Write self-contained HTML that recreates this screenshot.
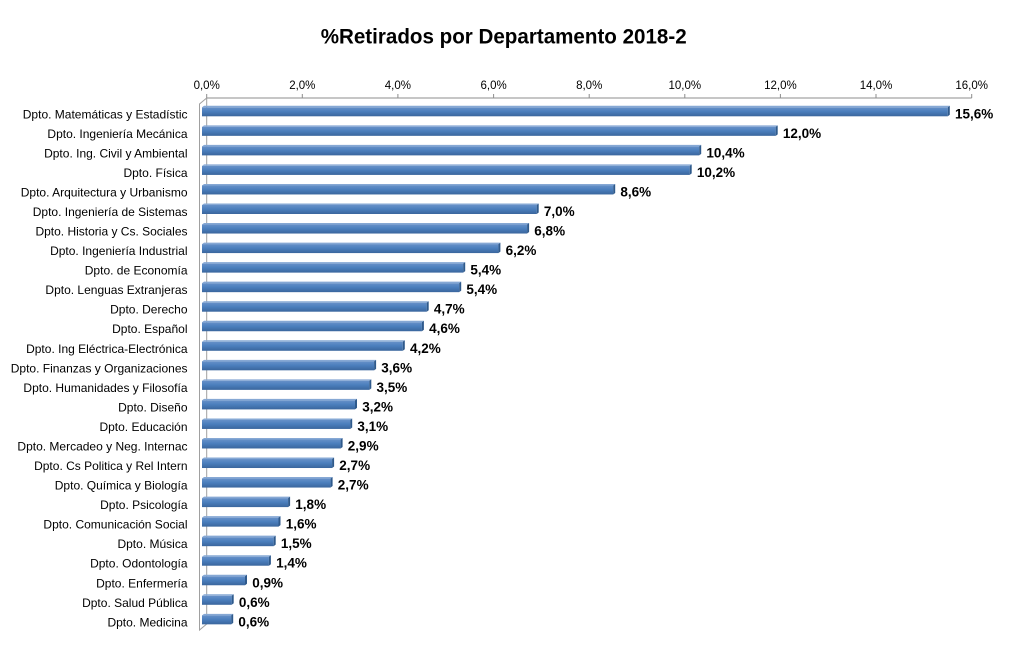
<!DOCTYPE html>
<html><head><meta charset="utf-8"><style>
html,body{margin:0;padding:0;background:#fff;}
svg{display:block;}
.cat{font-family:"Liberation Sans",Arial,sans-serif;font-size:12px;fill:#000;text-anchor:end;}
.tick{font-family:"Liberation Sans",Arial,sans-serif;font-size:11.5px;fill:#000;text-anchor:middle;}
.val{font-family:"Liberation Sans",Arial,sans-serif;font-size:13.5px;font-weight:bold;fill:#000;}
.b{fill:url(#bg);}
.t{fill:#86A8D4;}
.c{fill:#2F5A8C;}
</style></head><body>
<svg width="1010" height="650" viewBox="0 0 1010 650" xmlns="http://www.w3.org/2000/svg">
<defs>
<linearGradient id="bg" x1="0" y1="0" x2="0" y2="1">
<stop offset="0" stop-color="#6690C8"/>
<stop offset="0.45" stop-color="#4B7FBD"/>
<stop offset="1" stop-color="#3A669D"/>
</linearGradient>
</defs>
<rect width="1010" height="650" fill="#fff"/>
<text x="503.7" y="43.3" textLength="366" lengthAdjust="spacingAndGlyphs" style="font-family:'Liberation Sans',Arial,sans-serif;font-size:21px;font-weight:bold;text-anchor:middle" fill="#000">%Retirados por Departamento 2018-2</text>

<g stroke="#8C8C8C" stroke-width="1" fill="none">
<line x1="206.7" y1="98" x2="971.7" y2="98"/>
<line x1="206.7" y1="94" x2="206.7" y2="98"/>
<line x1="302.3" y1="94" x2="302.3" y2="98"/>
<line x1="397.9" y1="94" x2="397.9" y2="98"/>
<line x1="493.6" y1="94" x2="493.6" y2="98"/>
<line x1="589.2" y1="94" x2="589.2" y2="98"/>
<line x1="684.8" y1="94" x2="684.8" y2="98"/>
<line x1="780.4" y1="94" x2="780.4" y2="98"/>
<line x1="876.0" y1="94" x2="876.0" y2="98"/>
<line x1="971.7" y1="94" x2="971.7" y2="98"/>
</g>
<g stroke="#A0A0A0" stroke-width="1" fill="none">
<polyline points="206.7,98 199.5,104 199.5,630 206.7,624 206.7,98"/>
</g>

<text class="tick" x="206.7" y="89">0,0%</text>
<text class="tick" x="302.3" y="89">2,0%</text>
<text class="tick" x="397.9" y="89">4,0%</text>
<text class="tick" x="493.6" y="89">6,0%</text>
<text class="tick" x="589.2" y="89">8,0%</text>
<text class="tick" x="684.8" y="89">10,0%</text>
<text class="tick" x="780.4" y="89">12,0%</text>
<text class="tick" x="876.0" y="89">14,0%</text>
<text class="tick" x="971.7" y="89">16,0%</text>

<text class="cat" x="187.5" y="118.3">Dpto. Matemáticas y Estadístic</text>
<text class="cat" x="187.5" y="137.8">Dpto. Ingeniería Mecánica</text>
<text class="cat" x="187.5" y="157.4">Dpto. Ing. Civil y Ambiental</text>
<text class="cat" x="187.5" y="176.9">Dpto. Física</text>
<text class="cat" x="187.5" y="196.5">Dpto. Arquitectura y Urbanismo</text>
<text class="cat" x="187.5" y="216.0">Dpto. Ingeniería de Sistemas</text>
<text class="cat" x="187.5" y="235.5">Dpto. Historia y Cs. Sociales</text>
<text class="cat" x="187.5" y="255.1">Dpto. Ingeniería Industrial</text>
<text class="cat" x="187.5" y="274.6">Dpto. de Economía</text>
<text class="cat" x="187.5" y="294.2">Dpto. Lenguas Extranjeras</text>
<text class="cat" x="187.5" y="313.7">Dpto. Derecho</text>
<text class="cat" x="187.5" y="333.2">Dpto. Español</text>
<text class="cat" x="187.5" y="352.8">Dpto. Ing Eléctrica-Electrónica</text>
<text class="cat" x="187.5" y="372.3">Dpto. Finanzas y Organizaciones</text>
<text class="cat" x="187.5" y="391.9">Dpto. Humanidades y Filosofía</text>
<text class="cat" x="187.5" y="411.4">Dpto. Diseño</text>
<text class="cat" x="187.5" y="430.9">Dpto. Educación</text>
<text class="cat" x="187.5" y="450.5">Dpto. Mercadeo y Neg. Internac</text>
<text class="cat" x="187.5" y="470.0">Dpto. Cs Politica y Rel Intern</text>
<text class="cat" x="187.5" y="489.6">Dpto. Química y Biología</text>
<text class="cat" x="187.5" y="509.1">Dpto. Psicología</text>
<text class="cat" x="187.5" y="528.6">Dpto. Comunicación Social</text>
<text class="cat" x="187.5" y="548.2">Dpto. Música</text>
<text class="cat" x="187.5" y="567.7">Dpto. Odontología</text>
<text class="cat" x="187.5" y="587.3">Dpto. Enfermería</text>
<text class="cat" x="187.5" y="606.8">Dpto. Salud Pública</text>
<text class="cat" x="187.5" y="626.3">Dpto. Medicina</text>

<g transform="translate(202,107.3)"><rect class="b" width="745.8" height="9"/><polygon class="t" points="0,0 2,-1.5 747.8,-1.5 745.8,0"/><polygon class="c" points="745.8,0 747.8,-1.5 747.8,7.5 745.8,9"/></g>
<g transform="translate(202,126.84)"><rect class="b" width="573.7" height="9"/><polygon class="t" points="0,0 2,-1.5 575.7,-1.5 573.7,0"/><polygon class="c" points="573.7,0 575.7,-1.5 575.7,7.5 573.7,9"/></g>
<g transform="translate(202,146.38)"><rect class="b" width="497.2" height="9"/><polygon class="t" points="0,0 2,-1.5 499.2,-1.5 497.2,0"/><polygon class="c" points="497.2,0 499.2,-1.5 499.2,7.5 497.2,9"/></g>
<g transform="translate(202,165.92)"><rect class="b" width="487.7" height="9"/><polygon class="t" points="0,0 2,-1.5 489.7,-1.5 487.7,0"/><polygon class="c" points="487.7,0 489.7,-1.5 489.7,7.5 487.7,9"/></g>
<g transform="translate(202,185.46)"><rect class="b" width="411.2" height="9"/><polygon class="t" points="0,0 2,-1.5 413.2,-1.5 411.2,0"/><polygon class="c" points="411.2,0 413.2,-1.5 413.2,7.5 411.2,9"/></g>
<g transform="translate(202,205.0)"><rect class="b" width="334.7" height="9"/><polygon class="t" points="0,0 2,-1.5 336.7,-1.5 334.7,0"/><polygon class="c" points="334.7,0 336.7,-1.5 336.7,7.5 334.7,9"/></g>
<g transform="translate(202,224.54)"><rect class="b" width="325.1" height="9"/><polygon class="t" points="0,0 2,-1.5 327.1,-1.5 325.1,0"/><polygon class="c" points="325.1,0 327.1,-1.5 327.1,7.5 325.1,9"/></g>
<g transform="translate(202,244.08)"><rect class="b" width="296.4" height="9"/><polygon class="t" points="0,0 2,-1.5 298.4,-1.5 296.4,0"/><polygon class="c" points="296.4,0 298.4,-1.5 298.4,7.5 296.4,9"/></g>
<g transform="translate(202,263.62)"><rect class="b" width="261.2" height="9"/><polygon class="t" points="0,0 2,-1.5 263.2,-1.5 261.2,0"/><polygon class="c" points="261.2,0 263.2,-1.5 263.2,7.5 261.2,9"/></g>
<g transform="translate(202,283.16)"><rect class="b" width="257.2" height="9"/><polygon class="t" points="0,0 2,-1.5 259.2,-1.5 257.2,0"/><polygon class="c" points="257.2,0 259.2,-1.5 259.2,7.5 257.2,9"/></g>
<g transform="translate(202,302.7)"><rect class="b" width="224.7" height="9"/><polygon class="t" points="0,0 2,-1.5 226.7,-1.5 224.7,0"/><polygon class="c" points="224.7,0 226.7,-1.5 226.7,7.5 224.7,9"/></g>
<g transform="translate(202,322.24)"><rect class="b" width="219.9" height="9"/><polygon class="t" points="0,0 2,-1.5 221.9,-1.5 219.9,0"/><polygon class="c" points="219.9,0 221.9,-1.5 221.9,7.5 219.9,9"/></g>
<g transform="translate(202,341.78)"><rect class="b" width="200.8" height="9"/><polygon class="t" points="0,0 2,-1.5 202.8,-1.5 200.8,0"/><polygon class="c" points="200.8,0 202.8,-1.5 202.8,7.5 200.8,9"/></g>
<g transform="translate(202,361.32)"><rect class="b" width="172.1" height="9"/><polygon class="t" points="0,0 2,-1.5 174.1,-1.5 172.1,0"/><polygon class="c" points="172.1,0 174.1,-1.5 174.1,7.5 172.1,9"/></g>
<g transform="translate(202,380.86)"><rect class="b" width="167.3" height="9"/><polygon class="t" points="0,0 2,-1.5 169.3,-1.5 167.3,0"/><polygon class="c" points="167.3,0 169.3,-1.5 169.3,7.5 167.3,9"/></g>
<g transform="translate(202,400.4)"><rect class="b" width="153.0" height="9"/><polygon class="t" points="0,0 2,-1.5 155.0,-1.5 153.0,0"/><polygon class="c" points="153.0,0 155.0,-1.5 155.0,7.5 153.0,9"/></g>
<g transform="translate(202,419.94)"><rect class="b" width="148.2" height="9"/><polygon class="t" points="0,0 2,-1.5 150.2,-1.5 148.2,0"/><polygon class="c" points="148.2,0 150.2,-1.5 150.2,7.5 148.2,9"/></g>
<g transform="translate(202,439.48)"><rect class="b" width="138.6" height="9"/><polygon class="t" points="0,0 2,-1.5 140.6,-1.5 138.6,0"/><polygon class="c" points="138.6,0 140.6,-1.5 140.6,7.5 138.6,9"/></g>
<g transform="translate(202,459.02)"><rect class="b" width="130.1" height="9"/><polygon class="t" points="0,0 2,-1.5 132.1,-1.5 130.1,0"/><polygon class="c" points="130.1,0 132.1,-1.5 132.1,7.5 130.1,9"/></g>
<g transform="translate(202,478.56)"><rect class="b" width="128.6" height="9"/><polygon class="t" points="0,0 2,-1.5 130.6,-1.5 128.6,0"/><polygon class="c" points="128.6,0 130.6,-1.5 130.6,7.5 128.6,9"/></g>
<g transform="translate(202,498.1)"><rect class="b" width="86.1" height="9"/><polygon class="t" points="0,0 2,-1.5 88.1,-1.5 86.1,0"/><polygon class="c" points="86.1,0 88.1,-1.5 88.1,7.5 86.1,9"/></g>
<g transform="translate(202,517.64)"><rect class="b" width="76.5" height="9"/><polygon class="t" points="0,0 2,-1.5 78.5,-1.5 76.5,0"/><polygon class="c" points="76.5,0 78.5,-1.5 78.5,7.5 76.5,9"/></g>
<g transform="translate(202,537.18)"><rect class="b" width="71.7" height="9"/><polygon class="t" points="0,0 2,-1.5 73.7,-1.5 71.7,0"/><polygon class="c" points="71.7,0 73.7,-1.5 73.7,7.5 71.7,9"/></g>
<g transform="translate(202,556.72)"><rect class="b" width="66.9" height="9"/><polygon class="t" points="0,0 2,-1.5 68.9,-1.5 66.9,0"/><polygon class="c" points="66.9,0 68.9,-1.5 68.9,7.5 66.9,9"/></g>
<g transform="translate(202,576.26)"><rect class="b" width="43.0" height="9"/><polygon class="t" points="0,0 2,-1.5 45.0,-1.5 43.0,0"/><polygon class="c" points="43.0,0 45.0,-1.5 45.0,7.5 43.0,9"/></g>
<g transform="translate(202,595.8)"><rect class="b" width="29.7" height="9"/><polygon class="t" points="0,0 2,-1.5 31.7,-1.5 29.7,0"/><polygon class="c" points="29.7,0 31.7,-1.5 31.7,7.5 29.7,9"/></g>
<g transform="translate(202,615.34)"><rect class="b" width="29.2" height="9"/><polygon class="t" points="0,0 2,-1.5 31.2,-1.5 29.2,0"/><polygon class="c" points="29.2,0 31.2,-1.5 31.2,7.5 29.2,9"/></g>

<text class="val" x="955.0" y="118.3">15,6%</text>
<text class="val" x="782.9" y="137.8">12,0%</text>
<text class="val" x="706.4" y="157.4">10,4%</text>
<text class="val" x="696.9" y="176.9">10,2%</text>
<text class="val" x="620.4" y="196.5">8,6%</text>
<text class="val" x="543.9" y="216.0">7,0%</text>
<text class="val" x="534.3" y="235.5">6,8%</text>
<text class="val" x="505.6" y="255.1">6,2%</text>
<text class="val" x="470.4" y="274.6">5,4%</text>
<text class="val" x="466.4" y="294.2">5,4%</text>
<text class="val" x="433.9" y="313.7">4,7%</text>
<text class="val" x="429.1" y="333.2">4,6%</text>
<text class="val" x="410.0" y="352.8">4,2%</text>
<text class="val" x="381.3" y="372.3">3,6%</text>
<text class="val" x="376.5" y="391.9">3,5%</text>
<text class="val" x="362.2" y="411.4">3,2%</text>
<text class="val" x="357.4" y="430.9">3,1%</text>
<text class="val" x="347.8" y="450.5">2,9%</text>
<text class="val" x="339.3" y="470.0">2,7%</text>
<text class="val" x="337.8" y="489.6">2,7%</text>
<text class="val" x="295.3" y="509.1">1,8%</text>
<text class="val" x="285.7" y="528.6">1,6%</text>
<text class="val" x="280.9" y="548.2">1,5%</text>
<text class="val" x="276.1" y="567.7">1,4%</text>
<text class="val" x="252.2" y="587.3">0,9%</text>
<text class="val" x="238.9" y="606.8">0,6%</text>
<text class="val" x="238.4" y="626.3">0,6%</text>
</svg>
</body></html>
